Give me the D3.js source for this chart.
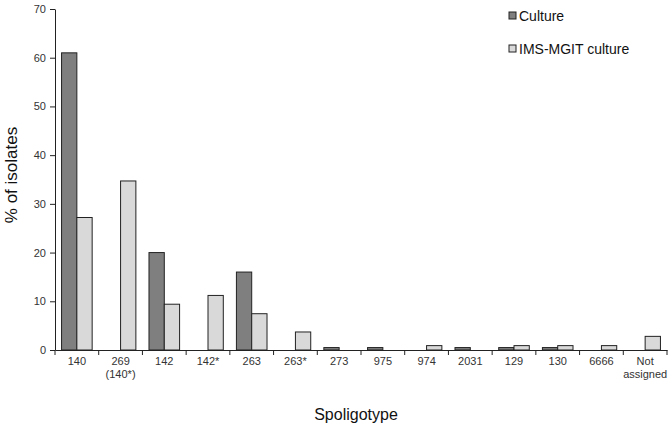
<!DOCTYPE html>
<html>
<head>
  <meta charset="utf-8">
  <script src="https://d3js.org/d3.v7.min.js"></script>
  <style>
    body { margin: 0; background: #fff; }
    text { font-family: Arial, "Liberation Sans", sans-serif; }
  </style>
</head>
<body>
<div id="chart"></div>
<script>
  var categories = ['140', '269|(140*)', '142', '142*', '263', '263*', '273', '975', '974', '2031', '129', '130', '6666', 'Not|assigned'];
  var culture = [61, 0, 20, 0, 16, 0, 0.5, 0.5, 0, 0.5, 0.5, 0.5, 0, 0];
  var imsMgit = [27.2, 34.7, 9.4, 11.2, 7.45, 3.7, 0, 0, 0.9, 0, 0.9, 0.9, 0.9, 2.8];
  var seriesNames = ['Culture', 'IMS-MGIT culture'];
  var seriesColors = ['#7f7f7f', '#d9d9d9'];
  var yTicks = [0, 10, 20, 30, 40, 50, 60, 70];

  var width = 671, height = 428;
  var plotLeft = 55, plotRight = 667, plotTop = 9, plotBottom = 350;

  var svg = d3.select('#chart').append('svg')
    .attr('width', width)
    .attr('height', height);

  var x0 = d3.scaleBand()
    .domain(categories)
    .range([plotLeft, plotRight])
    .paddingInner(0.3)
    .paddingOuter(0.15);

  var x1 = d3.scaleBand()
    .domain([0, 1])
    .range([0, x0.bandwidth()]);

  var y = d3.scaleLinear().domain([0, 70]).range([plotBottom, plotTop]);

  // y axis
  var yAxis = svg.append('g')
    .attr('transform', 'translate(' + plotLeft + ',0)')
    .call(d3.axisLeft(y).tickValues(yTicks).tickSize(5).tickSizeOuter(0));
  yAxis.select('.domain').attr('stroke', '#222');
  yAxis.selectAll('.tick line').attr('stroke', '#222');
  yAxis.selectAll('.tick text').attr('font-size', 11).attr('fill', '#333').attr('x', -9);

  // bars
  var rows = categories.map(function(c, i) { return { cat: c, vals: [culture[i], imsMgit[i]] }; });
  var groups = svg.selectAll('g.cat').data(rows).enter().append('g')
    .attr('class', 'cat')
    .attr('transform', function(d) { return 'translate(' + x0(d.cat) + ',0)'; });

  groups.selectAll('rect')
    .data(function(d) { return d.vals.map(function(v, k) { return { k: k, v: v }; }).filter(function(e) { return e.v > 0; }); })
    .enter().append('rect')
    .attr('x', function(d) { return x1(d.k); })
    .attr('width', x1.bandwidth())
    .attr('y', function(d) { return y(d.v); })
    .attr('height', function(d) { return y(0) - y(d.v); })
    .attr('fill', function(d) { return seriesColors[d.k]; })
    .attr('stroke', '#222')
    .attr('stroke-width', 1);

  // x axis
  var xAxis = svg.append('g')
    .attr('transform', 'translate(0,' + plotBottom + ')')
    .call(d3.axisBottom(x0).tickSize(0).tickSizeOuter(0));
  xAxis.select('.domain').attr('stroke', '#222');
  xAxis.selectAll('.tick text').each(function(d) {
    var t = d3.select(this).text('').attr('font-size', 11).attr('fill', '#333').attr('y', 7);
    d.split('|').forEach(function(line, i) {
      t.append('tspan').attr('x', 0).attr('dy', i === 0 ? '0.71em' : '1.2em').text(line);
    });
  });
  var step = x0.step();
  xAxis.selectAll('line.bound')
    .data(d3.range(categories.length + 1))
    .enter().append('line')
    .attr('class', 'bound')
    .attr('x1', function(i) { return plotLeft + i * step; })
    .attr('x2', function(i) { return plotLeft + i * step; })
    .attr('y1', 0).attr('y2', 5)
    .attr('stroke', '#222');

  // axis titles
  svg.append('text')
    .attr('transform', 'translate(17,175) rotate(-90)')
    .attr('text-anchor', 'middle')
    .attr('font-size', 17)
    .attr('fill', '#111')
    .text('% of isolates');

  svg.append('text')
    .attr('x', 356).attr('y', 420)
    .attr('text-anchor', 'middle')
    .attr('font-size', 16)
    .attr('fill', '#111')
    .text('Spoligotype');

  // legend
  var legend = svg.selectAll('g.legend').data(seriesNames).enter().append('g')
    .attr('class', 'legend')
    .attr('transform', function(d, i) { return 'translate(509,' + (12 + i * 33) + ')'; });
  legend.append('rect')
    .attr('width', 7).attr('height', 7)
    .attr('fill', function(d, i) { return seriesColors[i]; })
    .attr('stroke', '#222');
  legend.append('text')
    .attr('x', 10).attr('y', 4)
    .attr('dy', '0.35em')
    .attr('font-size', 14)
    .attr('fill', '#111')
    .text(function(d) { return d; });
</script>
</body>
</html>
